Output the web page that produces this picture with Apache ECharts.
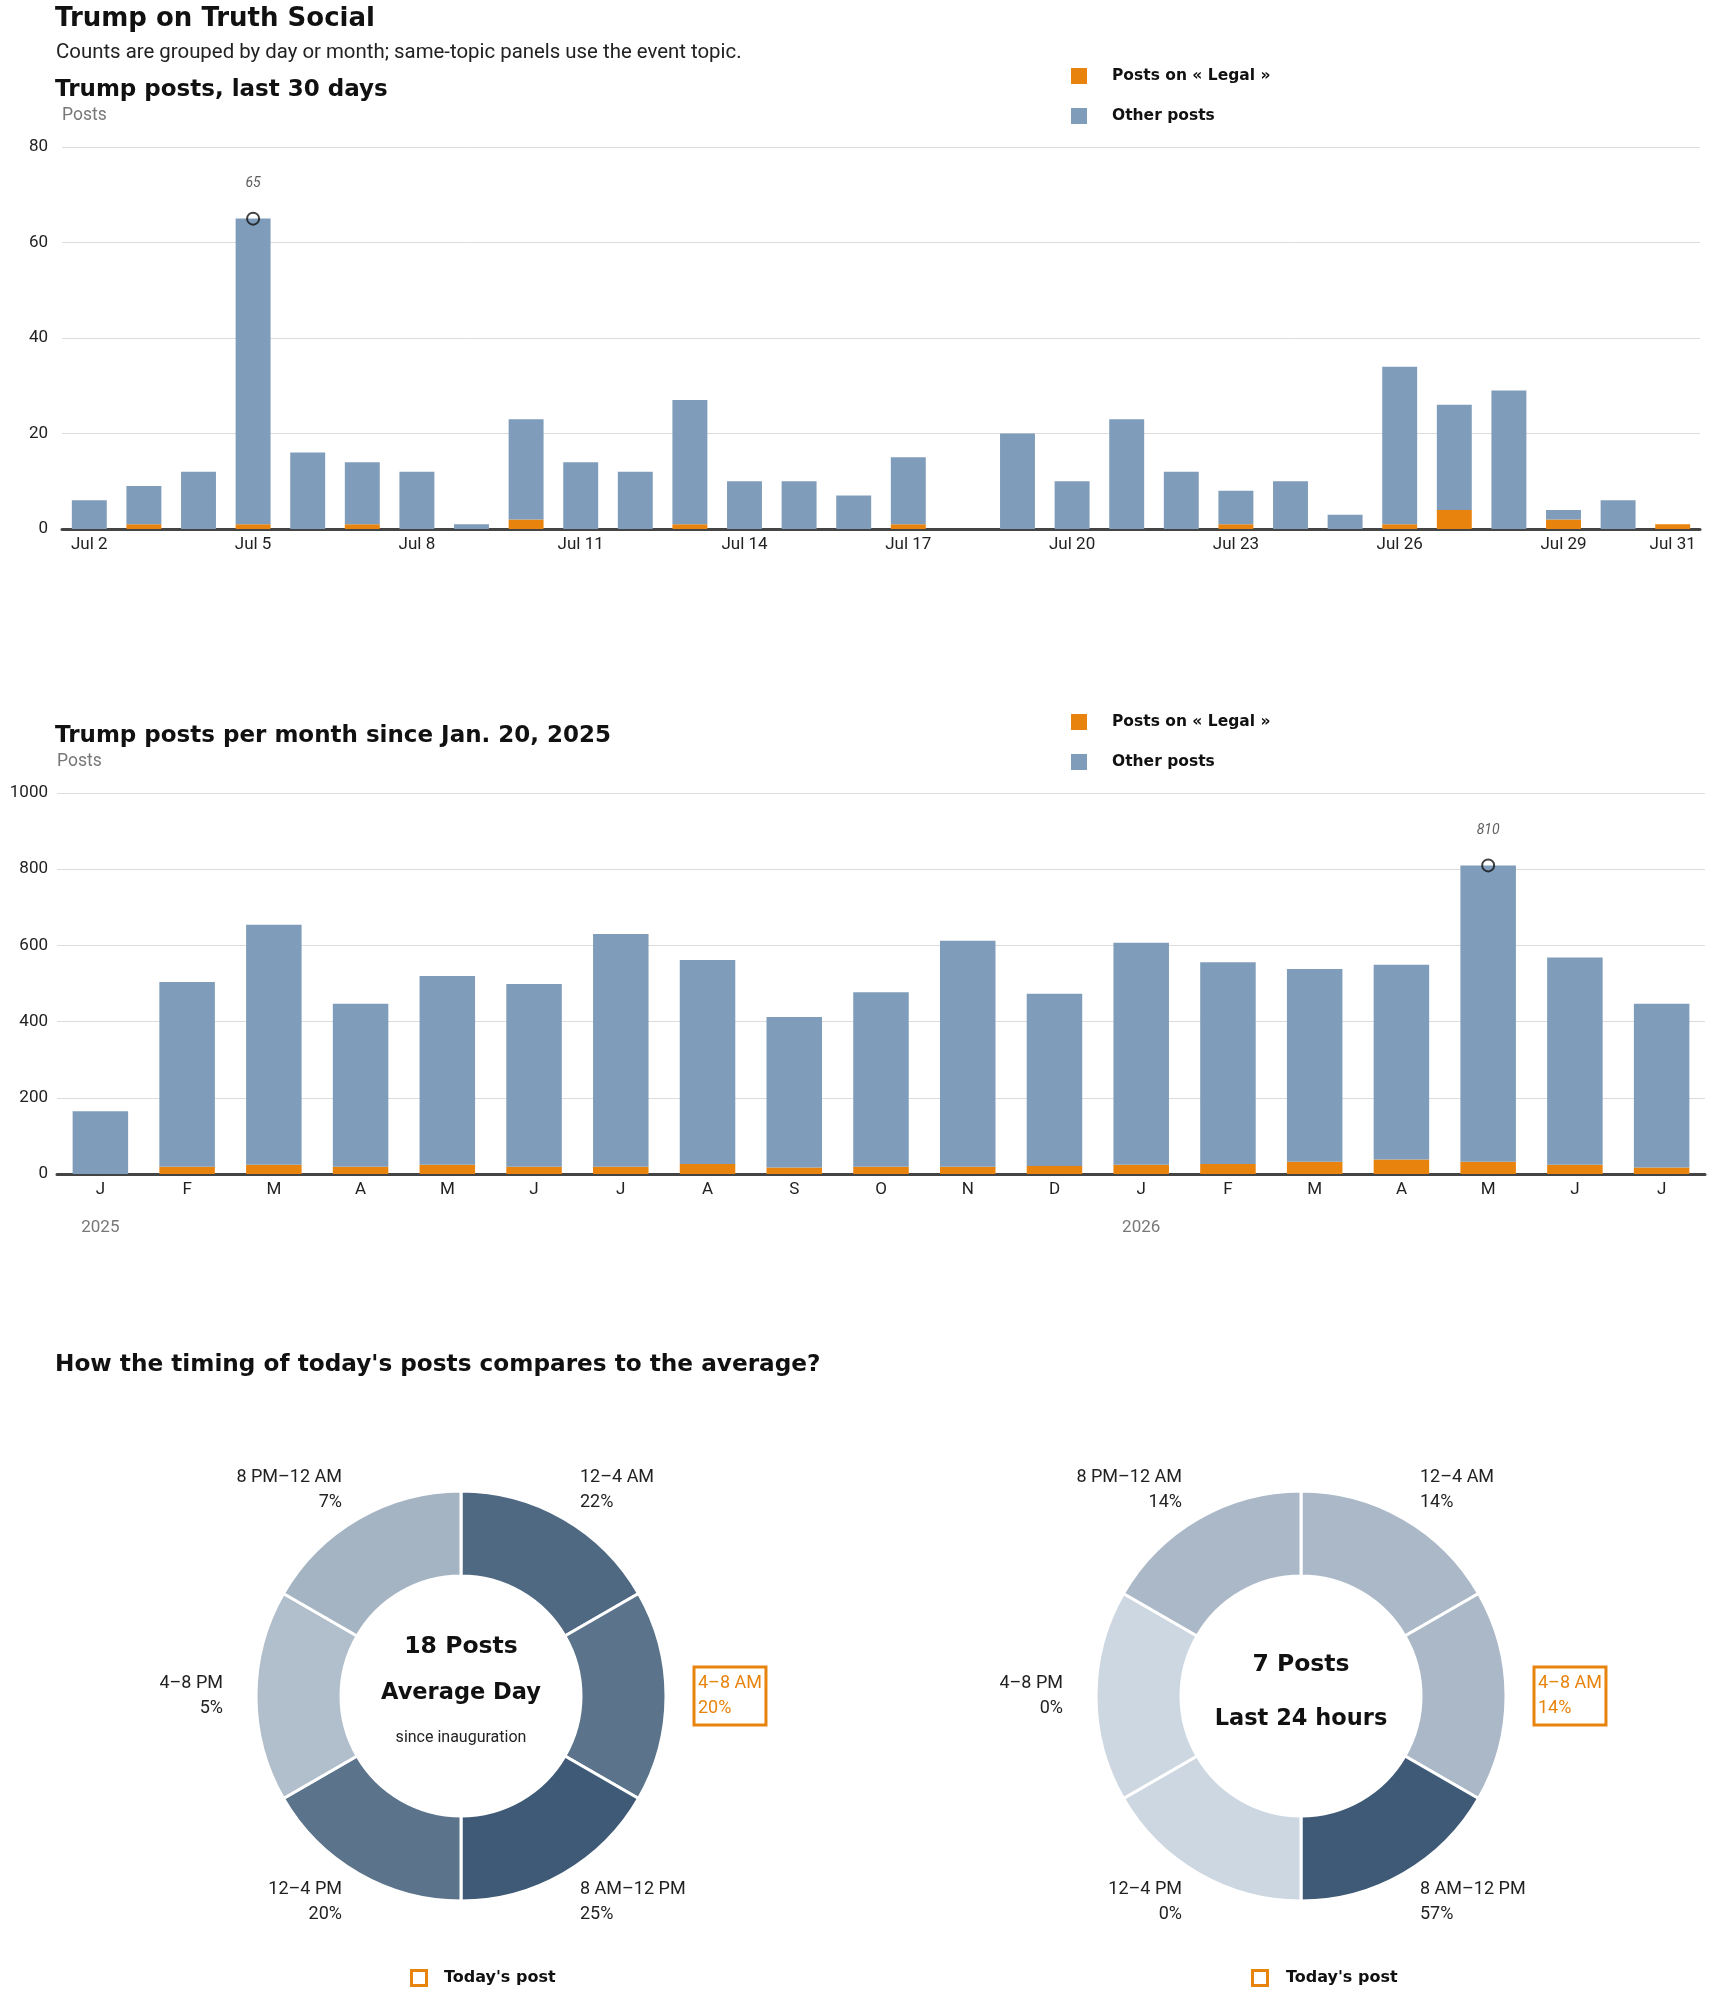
<!DOCTYPE html>
<html>
<head>
<meta charset="utf-8">
<title>Trump on Truth Social</title>
<script src="https://cdn.jsdelivr.net/npm/echarts@6/dist/echarts.min.js"></script>
<style>
  html, body { margin: 0; padding: 0; background: #fff; }
  #main { width: 1710px; height: 1993px; }
</style>
</head>
<body>
<div id="main"></div>
<script>
// --- daily posts, last 30 days ---
var dayLabels = ['Jul 2', 'Jul 3', 'Jul 4', 'Jul 5', 'Jul 6', 'Jul 7', 'Jul 8', 'Jul 9', 'Jul 10', 'Jul 11',
  'Jul 12', 'Jul 13', 'Jul 14', 'Jul 15', 'Jul 16', 'Jul 17', 'Jul 18', 'Jul 19', 'Jul 20', 'Jul 21',
  'Jul 22', 'Jul 23', 'Jul 24', 'Jul 25', 'Jul 26', 'Jul 27', 'Jul 28', 'Jul 29', 'Jul 30', 'Jul 31'];
var dayLegal = [0, 1, 0, 1, 0, 1, 0, 0, 2, 0, 0, 1, 0, 0, 0, 1, 0, 0, 0, 0, 0, 1, 0, 0, 1, 4, 0, 2, 0, 1];
var dayOther = [6, 8, 12, 64, 16, 13, 12, 1, 21, 14, 12, 26, 10, 10, 7, 14, 0, 20, 10, 23, 12, 7, 10, 3, 33, 22, 29, 2, 6, 0];

// --- monthly posts since inauguration ---
var monthKeys = ['2025-01', '2025-02', '2025-03', '2025-04', '2025-05', '2025-06', '2025-07', '2025-08', '2025-09', '2025-10',
  '2025-11', '2025-12', '2026-01', '2026-02', '2026-03', '2026-04', '2026-05', '2026-06', '2026-07'];
var monthLetters = ['J', 'F', 'M', 'A', 'M', 'J', 'J', 'A', 'S', 'O', 'N', 'D', 'J', 'F', 'M', 'A', 'M', 'J', 'J'];
var monthYears = ['2025', '', '', '', '', '', '', '', '', '', '', '', '2026', '', '', '', '', '', ''];
var monthLegal = [0, 19, 24, 19, 24, 19, 19, 26, 17, 19, 19, 21, 24, 26, 32, 38, 32, 24, 17];
var monthOther = [165, 485, 630, 428, 496, 480, 611, 536, 395, 458, 593, 452, 583, 530, 506, 511, 778, 544, 430];

// --- timing of posts (4-hour slots) ---
var slotNames = ['12–4 AM', '4–8 AM', '8 AM–12 PM', '12–4 PM', '4–8 PM', '8 PM–12 AM'];
var avgShare = [22, 20, 25, 20, 5, 7];
var todayShare = [14, 14, 57, 0, 0, 14];
var todaySlot = '4–8 AM';
var avgPostsPerDay = 18;
var last24Posts = 7;

var ORANGE = '#e8830e';
var BLUE = '#7f9dba';
var FONT = 'Roboto, "Liberation Sans", sans-serif';
var HEAVY = '"DejaVu Sans", Roboto, sans-serif';
var LEGAL = 'Posts on « Legal »';
var OTHER = 'Other posts';

function peakOf(legal, other) {
  var best = 0;
  for (var i = 1; i < legal.length; i++) {
    if (legal[i] + other[i] > legal[best] + other[best]) best = i;
  }
  return { index: best, value: legal[best] + other[best] };
}

// light -> dark blue-grey depending on share relative to the max share
function shade(p, max) {
  var lo = [205, 215, 225], hi = [63, 90, 118];
  var t = max ? p / max : 0;
  var c = lo.map(function (v, k) { return Math.round(v + (hi[k] - v) * t); });
  return 'rgb(' + c.join(',') + ')';
}

function peakSeries(axisIdx, labels, peak) {
  return {
    type: 'scatter', xAxisIndex: axisIdx, yAxisIndex: axisIdx, silent: true, z: 5,
    data: [[labels[peak.index], peak.value]],
    symbol: 'circle', symbolSize: 12,
    itemStyle: { color: 'rgba(0,0,0,0)', borderColor: '#111', borderWidth: 2 },
    label: {
      show: true, position: 'top', distance: 21, fontSize: 14, fontStyle: 'italic', color: '#333', fontFamily: FONT,
      formatter: function (p) { return p.value[1]; }
    }
  };
}

function donut(cx, shares) {
  var max = Math.max.apply(null, shares);
  return {
    type: 'pie', center: [cx, 1696], radius: [120, 205], startAngle: 90, clockwise: true,
    avoidLabelOverlap: false, silent: true,
    label: {
      show: true, position: 'outside', color: '#222', fontSize: 18, lineHeight: 25, fontFamily: FONT,
      distanceToLabelLine: 0,
      formatter: function (p) { return p.name + '\n' + shares[p.dataIndex] + '%'; }
    },
    labelLine: { show: false, length: 33, length2: 0 },
    data: slotNames.map(function (n, i) {
      var item = {
        name: n, value: 1,
        itemStyle: { color: shade(shares[i], max), borderColor: '#fff', borderWidth: 3 }
      };
      if (n === todaySlot) {
        item.label = { color: ORANGE, borderColor: ORANGE, borderWidth: 3, padding: [4, 4, 4, 4], distanceToLabelLine: -5 };
      }
      return item;
    })
  };
}

function heading(text, top, size) {
  return { text: text, left: 55, top: top, padding: 0,
    textStyle: { fontSize: size, fontWeight: 'bold', color: '#111', lineHeight: size + 6, fontFamily: HEAVY } };
}

var dayPeak = peakOf(dayLegal, dayOther);
var monthPeak = peakOf(monthLegal, monthOther);

var axisLineStyle = { lineStyle: { color: '#444', width: 3 } };
var splitStyle = { lineStyle: { color: '#dcdcdc', width: 1 } };
var yName = { color: '#777', fontSize: 17.5, align: 'left', verticalAlign: 'middle', fontFamily: FONT };
var legendText = { fontSize: 15.5, fontWeight: 'bold', color: '#111', lineHeight: 20, padding: [0, 0, 0, 20], fontFamily: HEAVY };

var myChart = echarts.init(document.getElementById('main'));
myChart.setOption({
  backgroundColor: '#fff',
  animation: false,
  textStyle: { fontFamily: FONT },
  title: [
    heading('Trump on Truth Social', 3, 26),
    { text: 'Counts are grouped by day or month; same-topic panels use the event topic.', left: 56, top: 41, padding: 0,
      textStyle: { fontSize: 20.4, fontWeight: 'normal', color: '#222', lineHeight: 24, fontFamily: FONT } },
    heading('Trump posts, last 30 days', 76, 23),
    heading('Trump posts per month since Jan. 20, 2025', 722, 23),
    heading('How the timing of today\'s posts compares to the average?', 1350, 23.2)
  ],
  legend: [
    { data: [LEGAL, OTHER], orient: 'vertical', left: 1071, top: 66, padding: 0, itemWidth: 16, itemHeight: 16, itemGap: 20, icon: 'rect',
      selectedMode: false, textStyle: legendText },
    { data: [LEGAL, OTHER], orient: 'vertical', left: 1071, top: 712, padding: 0, itemWidth: 16, itemHeight: 16, itemGap: 20, icon: 'rect',
      selectedMode: false, textStyle: legendText }
  ],
  grid: [
    { left: 62, width: 1638, top: 147, height: 382 },
    { left: 57, width: 1648, top: 793, height: 381 }
  ],
  xAxis: [
    { type: 'category', gridIndex: 0, data: dayLabels, axisTick: { show: false }, axisLine: axisLineStyle,
      axisLabel: { color: '#222', fontSize: 17, margin: 7, fontFamily: FONT,
        interval: function (i) { return i % 3 === 0 || i === dayLabels.length - 1; } } },
    { type: 'category', gridIndex: 1, data: monthKeys, axisTick: { show: false }, axisLine: axisLineStyle,
      axisLabel: { interval: 0, margin: 6, lineHeight: 19, fontFamily: FONT,
        formatter: function (v, i) {
          return '{m|' + monthLetters[i] + '}' + (monthYears[i] ? '\n\n{y|' + monthYears[i] + '}' : '');
        },
        rich: { m: { color: '#222', fontSize: 17, lineHeight: 19 }, y: { color: '#777', fontSize: 17, lineHeight: 19 } } } }
  ],
  yAxis: [
    { type: 'value', gridIndex: 0, min: 0, max: 80, interval: 20, name: 'Posts', nameLocation: 'end', nameGap: 31, nameTextStyle: yName,
      axisLine: { show: false }, axisTick: { show: false }, splitLine: splitStyle,
      axisLabel: { color: '#222', fontSize: 17, margin: 14 } },
    { type: 'value', gridIndex: 1, min: 0, max: 1000, interval: 200, name: 'Posts', nameLocation: 'end', nameGap: 31, nameTextStyle: yName,
      axisLine: { show: false }, axisTick: { show: false }, splitLine: splitStyle,
      axisLabel: { color: '#222', fontSize: 17, margin: 9, formatter: function (v) { return String(v); } } }
  ],
  series: [
    { name: LEGAL, type: 'bar', xAxisIndex: 0, yAxisIndex: 0, stack: 'day', barWidth: '64%', data: dayLegal, itemStyle: { color: ORANGE }, silent: true },
    { name: OTHER, type: 'bar', xAxisIndex: 0, yAxisIndex: 0, stack: 'day', barWidth: '64%', data: dayOther, itemStyle: { color: BLUE }, silent: true },
    peakSeries(0, dayLabels, dayPeak),
    { name: LEGAL, type: 'bar', xAxisIndex: 1, yAxisIndex: 1, stack: 'month', barWidth: '64%', data: monthLegal, itemStyle: { color: ORANGE }, silent: true },
    { name: OTHER, type: 'bar', xAxisIndex: 1, yAxisIndex: 1, stack: 'month', barWidth: '64%', data: monthOther, itemStyle: { color: BLUE }, silent: true },
    peakSeries(1, monthKeys, monthPeak),
    donut(461, avgShare),
    donut(1301, todayShare)
  ],
  graphic: [
    { type: 'text', x: 461, y: 1647, style: { text: avgPostsPerDay + ' Posts', align: 'center', verticalAlign: 'middle', fill: '#111', font: 'bold 23.5px ' + HEAVY } },
    { type: 'text', x: 461, y: 1693, style: { text: 'Average Day', align: 'center', verticalAlign: 'middle', fill: '#111', font: 'bold 22.5px ' + HEAVY } },
    { type: 'text', x: 461, y: 1738, style: { text: 'since inauguration', align: 'center', verticalAlign: 'middle', fill: '#222', font: '16px ' + FONT } },
    { type: 'text', x: 1301, y: 1665, style: { text: last24Posts + ' Posts', align: 'center', verticalAlign: 'middle', fill: '#111', font: 'bold 23.5px ' + HEAVY } },
    { type: 'text', x: 1301, y: 1719, style: { text: 'Last 24 hours', align: 'center', verticalAlign: 'middle', fill: '#111', font: 'bold 22.5px ' + HEAVY } },
    { type: 'rect', shape: { x: 411.5, y: 1970.5, width: 15, height: 15 }, style: { fill: '#fff', stroke: ORANGE, lineWidth: 3 } },
    { type: 'text', x: 444, y: 1978, style: { text: 'Today\'s post', verticalAlign: 'middle', fill: '#111', font: 'bold 16px ' + HEAVY } },
    { type: 'rect', shape: { x: 1252.5, y: 1970.5, width: 15, height: 15 }, style: { fill: '#fff', stroke: ORANGE, lineWidth: 3 } },
    { type: 'text', x: 1286, y: 1978, style: { text: 'Today\'s post', verticalAlign: 'middle', fill: '#111', font: 'bold 16px ' + HEAVY } }
  ]
});
window.myChart = myChart;
</script>
</body>
</html>
